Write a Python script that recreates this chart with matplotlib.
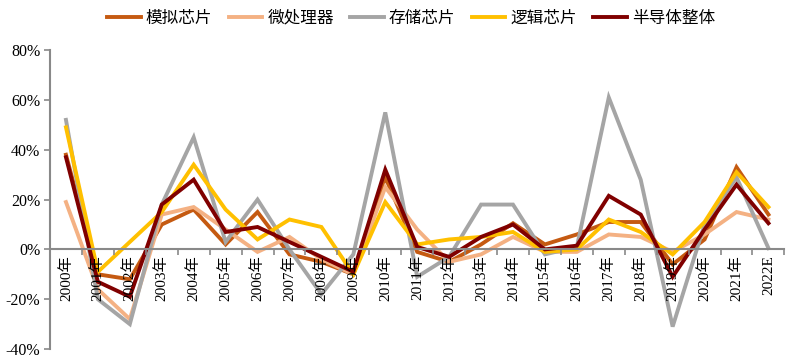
import matplotlib.pyplot as plt
import numpy as np

plt.rcParams['font.family'] = ['Liberation Serif', 'Noto Sans CJK SC']

# === 数据 ===
years = ["2000年", "2001年", "2002年", "2003年", "2004年", "2005年", "2006年", "2007年",
         "2008年", "2009年", "2010年", "2011年", "2012年", "2013年", "2014年", "2015年",
         "2016年", "2017年", "2018年", "2019年", "2020年", "2021年", "2022E"]

analog = [38, -10, -12, 10, 16, 2, 15, -2, -5, -10, 29, -1, -5, 2, 10.5, 2, 6, 11, 11, -6, 4, 33, 14]
micro = [19, -16, -28, 14, 17, 8, -1, 5, -4, -10, 25, 8, -5, -2, 5, -1, -1, 6, 5, -1, 6, 15, 12]
memory = [52, -20, -30, 18, 45, 3, 20, 0, -18, -2, 55, -11, -3, 18, 18, -2, 1, 61, 28, -31, 10, 29, 0.5]
logic = [49, -9, 3, 15, 34, 16, 4, 12, 9, -10, 19, 2, 4, 5, 7, -1, 0, 12, 7, -2, 11, 31, 17]
total = [37, -13, -19, 18, 28, 7, 9, 3, -3, -9, 32, 1, -3, 5, 10, 0, 1.5, 21.5, 14, -11, 8, 26, 10.5]

series = [
    ("模拟芯片", analog, "#C55A11"),
    ("微处理器", micro, "#F4B183"),
    ("存储芯片", memory, "#A5A5A5"),
    ("逻辑芯片", logic, "#FFC000"),
    ("半导体整体", total, "#800000"),
]

# === 绘图 ===
fig = plt.figure(figsize=(8, 3.58), dpi=100)
ax = fig.add_axes([0.0625, 0.025, 0.918, 0.835])

# 先移动坐标轴（会重置刻度）
ax.spines["bottom"].set_position(("data", 0))
for s in ["top", "right"]:
    ax.spines[s].set_visible(False)
for s in ["bottom", "left"]:
    ax.spines[s].set_color("#898989")
    ax.spines[s].set_linewidth(1.5)
ax.set_axisbelow(False)  # 年份标签压在折线上面

x = np.arange(len(years))
for name, vals, color in series:
    ax.plot(x, vals, color=color, lw=2.8, label=name, solid_joinstyle="miter")

ax.set_xlim(-0.5, len(years) - 0.5)
ax.set_ylim(-40, 80)
ax.set_yticks(range(-40, 81, 20))
ax.set_yticklabels([f"{v}%" for v in range(-40, 81, 20)], fontsize=11.5)

ax.set_xticks(x)
ax.set_xticks(np.arange(-0.5, len(years), 1), minor=True)
ax.set_xticklabels(years, fontsize=11)
ax.tick_params(axis="x", which="major", length=0, pad=4, labelrotation=90)
ax.tick_params(axis="x", which="minor", length=4, direction="out", color="#898989", width=1.2)
ax.tick_params(axis="y", length=4, direction="out", color="#898989", width=1.2, pad=3)

fig.legend(loc="upper center", bbox_to_anchor=(0.514, 1.015), ncol=5, frameon=False,
           prop={"family": "Noto Sans CJK SC", "size": 12}, handlelength=2.0,
           handletextpad=0.3, columnspacing=1.0)

plt.savefig("out.png", dpi=100)
plt.close()
